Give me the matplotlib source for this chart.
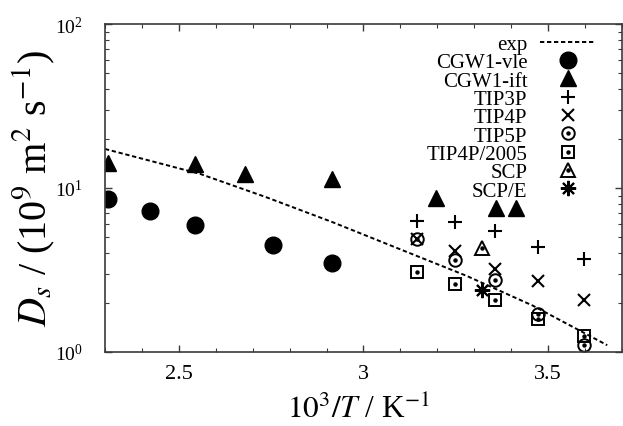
import matplotlib
matplotlib.use("Agg")
import matplotlib.pyplot as plt
from matplotlib.ticker import FixedLocator, MultipleLocator, LogLocator, NullFormatter, FormatStrFormatter

# ---------------------------- Data ---------------------------- #
x_exp = [2.30, 2.557, 2.737, 2.917, 3.097, 3.278, 3.458, 3.66]
d_exp = [17.3, 12.2, 8.78, 6.18, 4.25, 2.92, 1.92, 1.10]

x_vle = [2.309, 2.422, 2.544, 2.754, 2.916]
d_vle = [8.57, 7.21, 5.97, 4.51, 3.47]

x_ift = [2.309, 2.544, 2.680, 2.916, 3.196, 3.359, 3.413]
d_ift = [14.3, 14.0, 12.2, 11.3, 8.65, 7.52, 7.52]

x_tip = [3.145, 3.247, 3.356, 3.472, 3.597]
d_tip3p = [6.32, 6.18, 5.49, 4.35, 3.69]
d_tip4p = [4.89, 4.15, 3.21, 2.72, 2.08]
d_tip5p = [4.89, 3.66, 2.76, 1.71, 1.10]
d_tip4p2005 = [3.06, 2.60, 2.08, 1.59, 1.26]

x_scp = [3.322]
d_scp = [4.30]
d_scpe = [2.40]

x_ticks = [2.5, 3.0, 3.5]

# ---------------------------- Style ---------------------------- #
plt.rcParams["font.family"] = ["Liberation Serif", "DejaVu Serif"]
plt.rcParams["mathtext.fontset"] = "stix"
spine_col = "#3a3a3a"

fig = plt.figure(figsize=(6.23, 4.27), dpi=100)
ax = fig.add_axes([105 / 623, 74 / 427, 517 / 623, 328 / 427])

k = "black"
dot = dict(ls="none", marker="o", ms=2.2, color=k)

h_exp, = ax.plot(x_exp, d_exp, ls=(0, (2.2, 1.4)), lw=1.4, color=k)
h_vle, = ax.plot(x_vle, d_vle, ls="none", marker="o", ms=12, color=k)
h_ift, = ax.plot(x_ift, d_ift, ls="none", marker="^", ms=11, color=k)
h_3p, = ax.plot(x_tip, d_tip3p, ls="none", marker="+", ms=10, mew=1.5, color=k)
h_4p, = ax.plot(x_tip, d_tip4p, ls="none", marker="x", ms=9, mew=1.5, color=k)
h_5p, = ax.plot(x_tip, d_tip5p, ls="none", marker="o", ms=9, mew=1.4, mfc="none", color=k)
h_5pd, = ax.plot(x_tip, d_tip5p, **dot)
h_05, = ax.plot(x_tip, d_tip4p2005, ls="none", marker="s", ms=9, mew=1.4, mfc="none", color=k)
h_05d, = ax.plot(x_tip, d_tip4p2005, **dot)
h_scp, = ax.plot(x_scp, d_scp, ls="none", marker="^", ms=10, mew=1.4, mfc="none", color=k)
h_scpd, = ax.plot(x_scp, d_scp, **dot)
h_scpe, = ax.plot(x_scp, d_scpe, ls="none", marker=(8, 2, 0), ms=11, mew=1.5, color=k)

ax.set_yscale("log")
ax.set_xlim(2.3, 3.7)
ax.set_ylim(1, 100)

ax.xaxis.set_major_locator(FixedLocator(x_ticks))
ax.xaxis.set_major_formatter(FormatStrFormatter("%g"))
ax.xaxis.set_minor_locator(MultipleLocator(0.1))
ax.yaxis.set_minor_locator(LogLocator(base=10, subs=range(2, 10)))
ax.yaxis.set_minor_formatter(NullFormatter())

ax.tick_params(which="both", direction="in", top=True, right=True, colors=spine_col, labelcolor="black")
ax.tick_params(which="major", length=5, width=1)
ax.tick_params(which="minor", length=3, width=0.8)
ax.tick_params(axis="x", labelsize=16, pad=9)
ax.tick_params(axis="y", labelsize=14, pad=16)
for s in ax.spines.values():
    s.set_color(spine_col)
    s.set_linewidth(1.2)

ax.set_xlabel(r"$10^3/T$ / K$^{-1}$", fontsize=22.5)
ax.set_ylabel(r"$D_s$ / (10$^9$ m$^2$ s$^{-1}$)", fontsize=29)
ax.xaxis.set_label_coords(0.49, -0.13)
ax.yaxis.set_label_coords(-0.092, 0.5)

handles = [h_exp, h_vle, h_ift, h_3p, h_4p, (h_5p, h_5pd), (h_05, h_05d), (h_scp, h_scpd), h_scpe]
labels = ["exp", "CGW1-vle", "CGW1-ift", "TIP3P", "TIP4P", "TIP5P", "TIP4P/2005", "SCP", "SCP/E"]
ax.legend(handles, labels, loc="upper right", markerfirst=False, frameon=False,
          fontsize=15, labelspacing=-0.06, handlelength=2.7, handletextpad=0.6,
          borderaxespad=0.1, bbox_to_anchor=(0.97, 1.0))

fig.savefig("out.png", dpi=100)
